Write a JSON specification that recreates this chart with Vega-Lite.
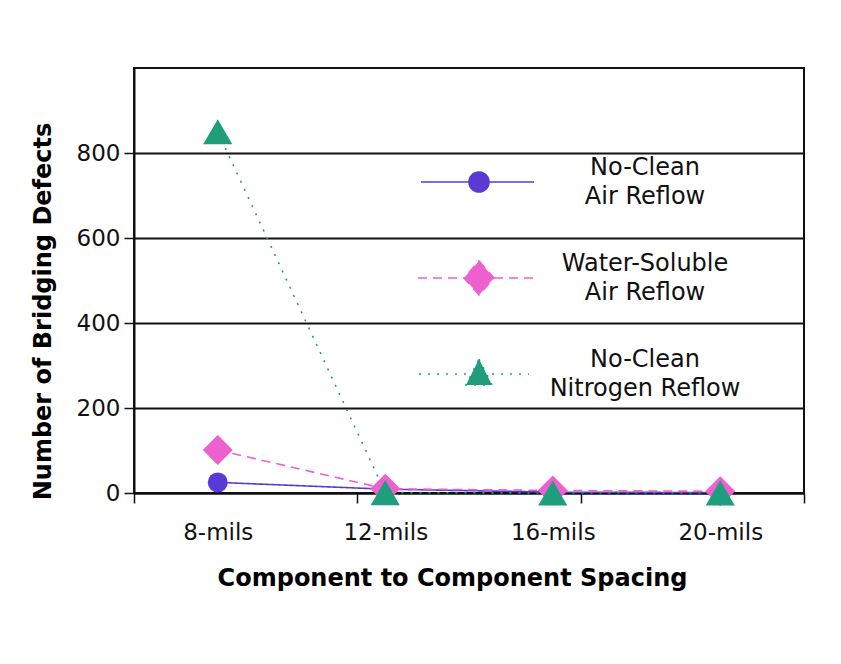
{
  "$schema": "https://vega.github.io/schema/vega-lite/v6.json",
  "autosize": "none",
  "width": 670,
  "height": 425,
  "padding": {"left": 134, "top": 68, "right": 37, "bottom": 171},
  "background": "white",
  "config": {
    "view": {"stroke": "#111", "strokeWidth": 2},
    "font": "DejaVu Sans"
  },
  "data": {
    "values": [
      {"series": "No-Clean Air Reflow", "mils": 8, "spacing": "8-mils", "defects": 25},
      {"series": "No-Clean Air Reflow", "mils": 12, "spacing": "12-mils", "defects": 9},
      {"series": "No-Clean Air Reflow", "mils": 16, "spacing": "16-mils", "defects": 2},
      {"series": "No-Clean Air Reflow", "mils": 20, "spacing": "20-mils", "defects": 1},
      {"series": "Water-Soluble Air Reflow", "mils": 8, "spacing": "8-mils", "defects": 101},
      {"series": "Water-Soluble Air Reflow", "mils": 12, "spacing": "12-mils", "defects": 10},
      {"series": "Water-Soluble Air Reflow", "mils": 16, "spacing": "16-mils", "defects": 6},
      {"series": "Water-Soluble Air Reflow", "mils": 20, "spacing": "20-mils", "defects": 4},
      {"series": "No-Clean Nitrogen Reflow", "mils": 8, "spacing": "8-mils", "defects": 850},
      {"series": "No-Clean Nitrogen Reflow", "mils": 12, "spacing": "12-mils", "defects": 1},
      {"series": "No-Clean Nitrogen Reflow", "mils": 16, "spacing": "16-mils", "defects": 0},
      {"series": "No-Clean Nitrogen Reflow", "mils": 20, "spacing": "20-mils", "defects": 0}
    ]
  },
  "encoding": {
    "x": {
      "field": "mils",
      "type": "quantitative",
      "scale": {"domain": [6, 22], "nice": false, "zero": false},
      "axis": {
        "title": "Component to Component Spacing",
        "values": [6, 8, 11.3333333, 12, 16, 16.6666667, 20, 22],
        "labelExpr": "datum.value % 4 == 0 ? datum.value + '-mils' : ''",
        "tickOpacity": {"condition": {"test": "datum.value % 4 == 0", "value": 0}, "value": 1},
        "labelOverlap": false,
        "labelFlush": false,
        "labelBound": false,
        "grid": false,
        "domainColor": "#111",
        "domainWidth": 2,
        "tickColor": "#111",
        "tickWidth": 1.5,
        "tickSize": 10,
        "labelFont": "DejaVu Sans",
        "labelFontSize": 23,
        "labelColor": "#111",
        "labelPadding": 18,
        "titleFont": "DejaVu Sans",
        "titleFontSize": 24,
        "titleFontWeight": "bold",
        "titleColor": "#000",
        "titlePadding": 22,
        "titleX": 318
      }
    },
    "y": {
      "field": "defects",
      "type": "quantitative",
      "scale": {"domain": [0, 1000], "nice": false},
      "axis": {
        "title": "Number of Bridging Defects",
        "values": [0, 200, 400, 600, 800],
        "grid": true,
        "gridColor": "#111",
        "gridWidth": 1.8,
        "domainColor": "#111",
        "domainWidth": 2,
        "tickColor": "#111",
        "tickWidth": 1.5,
        "tickSize": 10,
        "labelFont": "DejaVu Sans",
        "labelFontSize": 23,
        "labelColor": "#111",
        "labelPadding": 4,
        "titleFont": "DejaVu Sans",
        "titleFontSize": 24,
        "titleFontWeight": "bold",
        "titleColor": "#000",
        "titlePadding": 21,
        "titleY": 243
      }
    },
    "color": {
      "field": "series",
      "type": "nominal",
      "scale": {
        "domain": ["No-Clean Air Reflow", "Water-Soluble Air Reflow", "No-Clean Nitrogen Reflow"],
        "range": ["#5a3ad6", "#ee5fd0", "#1e9e7c"]
      },
      "legend": {
        "title": null,
        "orient": "none",
        "legendX": 333,
        "legendY": 102,
        "padding": 0,
        "symbolSize": 4,
        "rowPadding": 43,
        "labelOffset": 154,
        "labelAlign": "center",
        "labelFont": "DejaVu Sans",
        "labelFontSize": 24,
        "labelColor": "#111",
        "labelLimit": 400,
        "labelExpr": "[slice(datum.label, 0, indexof(datum.label, ' ')), slice(datum.label, indexof(datum.label, ' ') + 1)]",
        "encode": {
          "labels": {"update": {"lineHeight": {"value": 29}, "dy": {"value": -14}}},
          "symbols": {
            "update": {
              "shape": {"signal": "datum.value === 'No-Clean Air Reflow' ? 'M-58,0H-10M10,0H55M10,0A10,10,0,1,1,-10,0A10,10,0,1,1,10,0Z' : datum.value === 'Water-Soluble Air Reflow' ? 'M-61,0H-15M15,0H55M0,-17L15,0L0,17L-15,0Z' : 'M-60,0H-13M13,0H50M0,-15L13,11L-13,11Z'"},
              "size": {"value": 4},
              "fill": {"signal": "datum.value === 'No-Clean Air Reflow' ? '#5a3ad6' : datum.value === 'Water-Soluble Air Reflow' ? '#ee5fd0' : '#1e9e7c'"},
              "stroke": {"signal": "datum.value === 'No-Clean Air Reflow' ? '#5a3ad6' : datum.value === 'Water-Soluble Air Reflow' ? '#ee5fd0' : '#1e9e7c'"},
              "strokeDash": {"signal": "datum.value === 'No-Clean Air Reflow' ? [1, 0] : datum.value === 'Water-Soluble Air Reflow' ? [9, 6] : [2, 7]"},
              "strokeWidth": {"value": 1.6},
              "opacity": {"value": 1},
              "fillOpacity": {"value": 1}
            }
          }
        }
      }
    }
  },
  "layer": [
    {
      "mark": {"type": "line", "strokeWidth": 1.6},
      "encoding": {
        "strokeDash": {
          "condition": [
            {"test": "datum.series === 'Water-Soluble Air Reflow'", "value": [9, 6]},
            {"test": "datum.series === 'No-Clean Nitrogen Reflow'", "value": [2, 7]}
          ],
          "value": [1, 0]
        }
      }
    },
    {
      "mark": {"type": "point", "filled": true, "opacity": 1},
      "encoding": {
        "shape": {
          "condition": [
            {"test": "datum.series === 'Water-Soluble Air Reflow'", "value": "diamond"},
            {"test": "datum.series === 'No-Clean Nitrogen Reflow'", "value": "triangle-up"}
          ],
          "value": "circle"
        },
        "size": {
          "condition": [
            {"test": "datum.series === 'Water-Soluble Air Reflow'", "value": 900},
            {"test": "datum.series === 'No-Clean Nitrogen Reflow'", "value": 850}
          ],
          "value": 400
        }
      }
    }
  ]
}
